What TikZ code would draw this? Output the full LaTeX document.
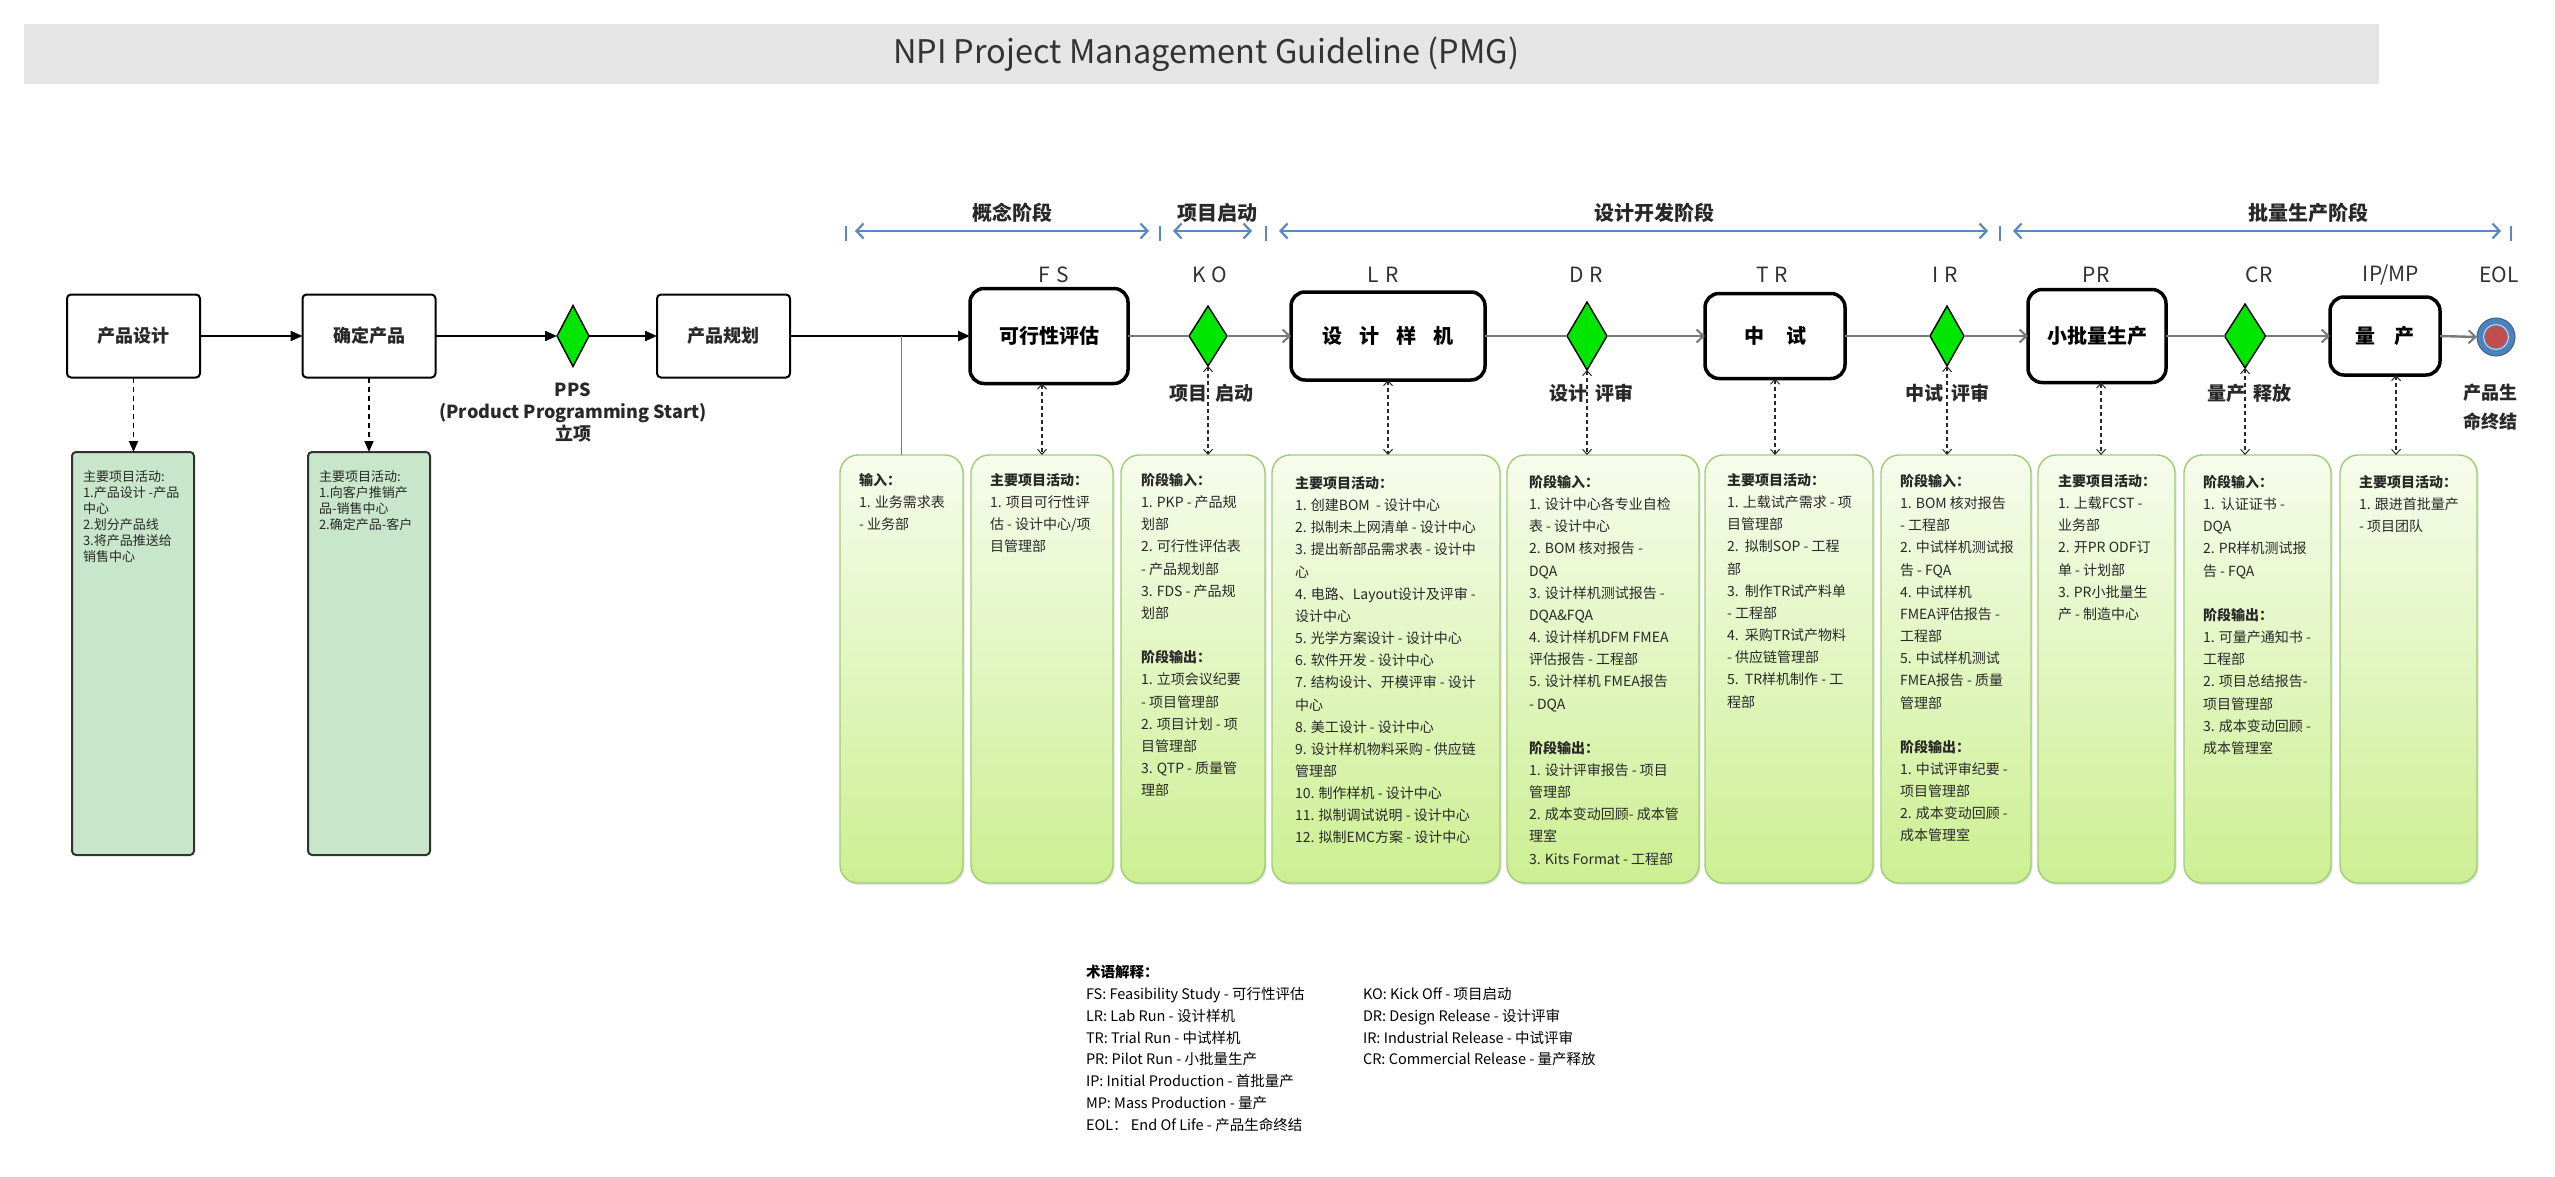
\documentclass[tikz,border=0pt]{standalone}
\usepackage{fontspec}
\setmainfont{Noto Sans CJK SC}
\usetikzlibrary{arrows.meta,shapes.geometric,shadows}
\newcommand\myfs[2]{\fontsize{#1}{#2}\selectfont}
\definecolor{phaseblue}{RGB}{88,136,196}
\definecolor{gatefill}{RGB}{0,230,0}
\definecolor{flowgray}{RGB}{120,120,120}
\definecolor{leftgreen}{RGB}{200,230,201}
\definecolor{paneltop}{RGB}{246,252,236}
\definecolor{panelbot}{RGB}{204,239,146}
\definecolor{panelline}{RGB}{160,205,115}
\definecolor{titlebg}{RGB}{229,229,229}
\definecolor{txt}{RGB}{40,40,40}
\definecolor{eolblue}{RGB}{79,129,189}
\definecolor{eolred}{RGB}{192,80,77}
\begin{document}
\begin{tikzpicture}[x=1pt,y=-1pt,
 every node/.style={inner sep=0pt,outer sep=0pt},
 flowbox/.style={draw=black,line width=2pt,rounded corners=4pt,minimum width=133,minimum height=83,font=\myfs{18}{22}\bfseries,text=txt},
 stagebox/.style={draw=black,line width=3.5pt,rounded corners=14pt,font=\myfs{20}{24}\bfseries,text=black},
 gate/.style={diamond,draw=black,line width=1.4pt,fill=gatefill},
 leftpanel/.style={draw={rgb,255:red,50;green,50;blue,50},line width=2pt,rounded corners=4pt,fill=leftgreen,minimum width=122,minimum height=403},
 panel/.style={draw=panelline,line width=1.4pt,rounded corners=18pt,top color=paneltop,bottom color=panelbot,minimum height=428,drop shadow={opacity=0.22,shadow xshift=1.5pt,shadow yshift=-2pt}},
 ptext/.style={anchor=north west,align=left,font=\myfs{14}{22.15},text=txt},
 lptext/.style={anchor=north west,align=left,font=\myfs{13}{16},text=txt},
 stagelbl/.style={font=\myfs{21}{24},text={rgb,255:red,50;green,50;blue,50}},
 phaselbl/.style={font=\myfs{20}{24}\bfseries,text=txt},
 gatelbl/.style={font=\myfs{19}{24}\bfseries,text=txt},
 blackarrow/.style={draw=black,line width=2.2pt,-{Triangle[length=12pt,width=10pt]}},
 mainline/.style={draw=flowgray,line width=2.4pt},
 mainarrow/.style={mainline,-{Straight Barb[length=7pt,width=13pt,line width=2pt]}},
 dasharrow/.style={draw={rgb,255:red,40;green,40;blue,40},line width=1.1pt,dash pattern=on 4pt off 3pt,{Straight Barb[length=5pt,width=9pt,line width=1pt]}-{Straight Barb[length=5pt,width=9pt,line width=1pt]}},
 leftdash/.style={draw=black,line width=1.8pt,dash pattern=on 5pt off 4pt,-{Triangle[length=11pt,width=9pt]}},
 phasearrow/.style={draw=phaseblue,line width=2.6pt,{Straight Barb[length=7pt,width=15pt,line width=2.2pt]}-{Straight Barb[length=7pt,width=15pt,line width=2.2pt]}},
 phasetick/.style={draw=phaseblue,line width=2pt}
]
\useasboundingbox (0,0) rectangle (2555,1177);
\fill[white] (0,0) rectangle (2555,1177);

% title
\node[fill=titlebg,minimum width=2355,minimum height=60] (title) at (1201.5,54) {};
\node[font=\myfs{32.5}{36},text={rgb,255:red,51;green,51;blue,51}] (titletext) at (1206,54) {NPI Project Management Guideline (PMG)};

% left flow
\node[flowbox] (pd) at (133.5,336) {产品设计};
\node[flowbox] (qd) at (369,336) {确定产品};
\node[gate,minimum width=32,minimum height=61] (pps) at (573,336) {};
\node[flowbox] (pg) at (723.5,336) {产品规划};
\node[anchor=north,align=center,font=\myfs{18}{22}\bfseries,text=txt] (ppsl) at (573,381.5) {\strut PPS\\(Product Programming Start)\\立项};

\node[leftpanel] (lb1) at (133,653.5) {};
\node[leftpanel] (lb2) at (369,653.5) {};
\node[lptext] (lt1) at (83,470) {\strut 主要项目活动:\\1.产品设计 -产品\\中心\\2.划分产品线\\3.将产品推送给\\销售中心};
\node[lptext] (lt2) at (319,470) {\strut 主要项目活动:\\1.向客户推销产\\品-销售中心\\2.确定产品-客户};

\draw[blackarrow] (pd.east) -- (qd.west);
\draw[blackarrow] (qd.east) -- (pps.west);
\draw[blackarrow] (pps.east) -- (pg.west);
\draw[leftdash] (pd.south) -- (pd.south |- lb1.north);
\draw[leftdash] (qd.south) -- (qd.south |- lb2.north);

% phase header
\node[phaselbl] (ph1) at (1012,213) {概念阶段};
\node[phaselbl] (ph2) at (1217,213) {项目启动};
\node[phaselbl] (ph3) at (1654,213) {设计开发阶段};
\node[phaselbl] (ph4) at (2308,213) {批量生产阶段};
\foreach \tx in {846,1160,1266,2000,2511} \draw[phasetick] (\tx,226) -- (\tx,241);
\draw[phasearrow] (855,231) -- (1149,231);
\draw[phasearrow] (1173,231) -- (1252,231);
\draw[phasearrow] (1279,231) -- (1988,231);
\draw[phasearrow] (2013,231) -- (2501,231);

% stage letters
\node[stagelbl] (lfs) at (1054,275) {F\hspace{6pt}S};
\node[stagelbl] (lko) at (1210,275) {K\hspace{6pt}O};
\node[stagelbl] (llr) at (1383,275) {L\hspace{6pt}R};
\node[stagelbl] (ldr) at (1586,275) {D\hspace{6pt}R};
\node[stagelbl] (ltr) at (1772,275) {T\hspace{6pt}R};
\node[stagelbl] (lir) at (1945,275) {I\hspace{6pt}R};
\node[stagelbl] (lpr) at (2096,275) {PR};
\node[stagelbl] (lcr) at (2259,275) {CR};
\node[stagelbl] (lip) at (2391,275) {IP/MP};
\node[stagelbl] (leol) at (2499,275) {EOL};

% green panels
\node[panel,minimum width=123] (g1) at (901.5,669) {};
\node[panel,minimum width=142] (g2) at (1042,669) {};
\node[panel,minimum width=144] (g3) at (1193,669) {};
\node[panel,minimum width=228] (g4) at (1386,669) {};
\node[panel,minimum width=192] (g5) at (1603,669) {};
\node[panel,minimum width=168] (g6) at (1789,669) {};
\node[panel,minimum width=150] (g7) at (1956,669) {};
\node[panel,minimum width=137] (g8) at (2106.5,669) {};
\node[panel,minimum width=147] (g9) at (2257.5,669) {};
\node[panel,minimum width=137] (g10) at (2408.5,669) {};

% stage boxes and gates
\node[stagebox,minimum width=158,minimum height=95] (fs) at (1049,336) {可行性评估};
\node[gate,minimum width=38,minimum height=60] (ko) at (1208,336) {};
\node[stagebox,minimum width=194,minimum height=88] (lr) at (1388,336) {设\hspace{17pt}计\hspace{17pt}样\hspace{17pt}机};
\node[gate,minimum width=40,minimum height=68] (dr) at (1587,336) {};
\node[stagebox,minimum width=140,minimum height=85] (tr) at (1775,336) {中\hspace{22pt}试};
\node[gate,minimum width=34,minimum height=60] (ir) at (1947,336) {};
\node[stagebox,minimum width=138,minimum height=93] (pr) at (2097,336) {小批量生产};
\node[gate,minimum width=41,minimum height=64] (cr) at (2245,336) {};
\node[stagebox,minimum width=110,minimum height=78] (ip) at (2385,336) {量\hspace{19pt}产};
\node[circle,fill=eolblue,draw=eolblue!75!black,line width=1pt,minimum size=38] (eol) at (2496,337) {};
\fill[eolred] (eol.center) circle (11);
\draw[white!70!eolblue,line width=1pt] (eol.center) circle (12.5);

% main line
\draw[blackarrow] (pg.east) -- (fs.west);
\draw[draw=flowgray,line width=1.6pt] (g1.north |- fs.west) -- (g1.north);
\draw[mainline] (fs.east) -- (ko.west);
\draw[mainarrow] (ko.east) -- (lr.west);
\draw[mainline] (lr.east) -- (dr.west);
\draw[mainarrow] (dr.east) -- (tr.west);
\draw[mainline] (tr.east) -- (ir.west);
\draw[mainarrow] (ir.east) -- (pr.west);
\draw[mainline] (pr.east) -- (cr.west);
\draw[mainarrow] (cr.east) -- (ip.west);
\draw[mainarrow] (ip.east) -- (eol.west);

% dashed links
\draw[dasharrow] (fs.south -| g2.north) -- (g2.north);
\draw[dasharrow] (ko.south) -- (ko.south |- g3.north);
\draw[dasharrow] (lr.south) -- (lr.south |- g4.north);
\draw[dasharrow] (dr.south) -- (dr.south |- g5.north);
\draw[dasharrow] (tr.south) -- (tr.south |- g6.north);
\draw[dasharrow] (ir.south) -- (ir.south |- g7.north);
\draw[dasharrow] ([xshift=4pt]pr.south) -- ([xshift=4pt]pr.south |- g8.north);
\draw[dasharrow] (cr.south) -- (cr.south |- g9.north);
\draw[dasharrow] ([xshift=11pt]ip.south) -- ([xshift=11pt]ip.south |- g10.north);

% gate labels
\node[gatelbl] (kol) at (1211,393) {项目\hspace{8pt}启动};
\node[gatelbl] (drl) at (1591,393) {设计\hspace{8pt}评审};
\node[gatelbl] (irl) at (1947,393) {中试\hspace{8pt}评审};
\node[gatelbl] (crl) at (2249,393) {量产\hspace{8pt}释放};
\node[anchor=north,align=center,font=\myfs{18}{29}\bfseries,text=txt] (eoll) at (2490,379) {\strut 产品生\\命终结};

% panel texts
\node[ptext] (t1) at (859,470) {\strut\textbf{输入：}\\1. 业务需求表\\- 业务部};
\node[ptext] (t2) at (990,470) {\strut\textbf{主要项目活动：}\\1. 项目可行性评\\估 - 设计中心/项\\目管理部};
\node[ptext] (t3) at (1141,470) {\strut\textbf{阶段输入：}\\1. PKP - 产品规\\划部\\2. 可行性评估表\\- 产品规划部\\3. FDS - 产品规\\划部\\[22.15pt]\textbf{阶段输出：}\\1. 立项会议纪要\\- 项目管理部\\2. 项目计划 - 项\\目管理部\\3. QTP - 质量管\\理部};
\node[ptext] (t4) at (1295,473) {\strut\textbf{主要项目活动：}\\1. 创建BOM\ \ - 设计中心\\2. 拟制未上网清单 - 设计中心\\3. 提出新部品需求表 - 设计中\\心\\4. 电路、Layout设计及评审 -\\设计中心\\5. 光学方案设计 - 设计中心\\6. 软件开发 - 设计中心\\7. 结构设计、开模评审 - 设计\\中心\\8. 美工设计 - 设计中心\\9. 设计样机物料采购 - 供应链\\管理部\\10. 制作样机 - 设计中心\\11. 拟制调试说明 - 设计中心\\12. 拟制EMC方案 - 设计中心};
\node[ptext] (t5) at (1529,472) {\strut\textbf{阶段输入：}\\1. 设计中心各专业自检\\表 - 设计中心\\2. BOM 核对报告 -\\DQA\\3. 设计样机测试报告 -\\DQA\&FQA\\4. 设计样机DFM FMEA\\评估报告 - 工程部\\5. 设计样机 FMEA报告\\- DQA\\[22.15pt]\textbf{阶段输出：}\\1. 设计评审报告 - 项目\\管理部\\2. 成本变动回顾- 成本管\\理室\\3. Kits Format - 工程部};
\node[ptext] (t6) at (1727,470) {\strut\textbf{主要项目活动：}\\1. 上载试产需求 - 项\\目管理部\\2.\ \ 拟制SOP - 工程\\部\\3.\ \ 制作TR试产料单\\- 工程部\\4.\ \ 采购TR试产物料\\- 供应链管理部\\5.\ \ TR样机制作 - 工\\程部};
\node[ptext] (t7) at (1900,471) {\strut\textbf{阶段输入：}\\1. BOM 核对报告\\- 工程部\\2. 中试样机测试报\\告 - FQA\\4. 中试样机\\FMEA评估报告 -\\工程部\\5. 中试样机测试\\FMEA报告 - 质量\\管理部\\[22.15pt]\textbf{阶段输出：}\\1. 中试评审纪要 -\\项目管理部\\2. 成本变动回顾 -\\成本管理室};
\node[ptext] (t8) at (2058,471) {\strut\textbf{主要项目活动：}\\1. 上载FCST -\\业务部\\2. 开PR ODF订\\单 - 计划部\\3. PR小批量生\\产 - 制造中心};
\node[ptext] (t9) at (2203,472) {\strut\textbf{阶段输入：}\\1.\ \ 认证证书 -\\DQA\\2. PR样机测试报\\告 - FQA\\[22.15pt]\textbf{阶段输出：}\\1. 可量产通知书 -\\工程部\\2. 项目总结报告-\\项目管理部\\3. 成本变动回顾 -\\成本管理室};
\node[ptext] (t10) at (2359,472) {\strut\textbf{主要项目活动：}\\1. 跟进首批量产\\- 项目团队};

% glossary
\node[anchor=north west,align=left,font=\myfs{14.5}{21.9},text=black] (glo1) at (1086,962) {\strut\textbf{术语解释：}\\FS: Feasibility Study - 可行性评估\\LR: Lab Run - 设计样机\\TR: Trial Run - 中试样机\\PR: Pilot Run - 小批量生产\\IP: Initial Production - 首批量产\\MP: Mass Production - 量产\\EOL：\ End Of Life - 产品生命终结};
\node[anchor=north west,align=left,font=\myfs{14.5}{21.9},text=black] (glo2) at (1363,983.9) {\strut KO: Kick Off - 项目启动\\DR: Design Release - 设计评审\\IR: Industrial Release - 中试评审\\CR: Commercial Release - 量产释放};
\end{tikzpicture}
\end{document}
